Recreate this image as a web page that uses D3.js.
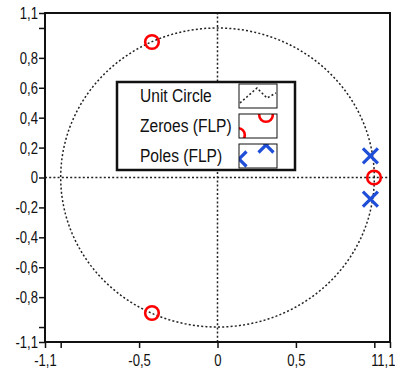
<!DOCTYPE html>
<html lang="en">
<head>
<meta charset="UTF-8">
<title>Pole-Zero Plot</title>
<script src="https://d3js.org/d3.v7.min.js"></script>
<style>
  body { margin: 0; background: #fff; }
  svg text { font-family: "Liberation Sans", Arial, sans-serif; fill: #111; }
</style>
</head>
<body>
<svg id="chart" width="395" height="372"></svg>
<script>
// data
const zeros = [[-0.418, 0.906], [-0.418, -0.906], [0.998, 0]];
const poles = [[0.975, 0.145], [0.975, -0.145]];
const xTicks = [-1.1, -1, -0.5, 0, 0.5, 1, 1.1];
const yTicks = [1.1, 1, 0.8, 0.6, 0.4, 0.2, 0, -0.2, -0.4, -0.6, -0.8, -1, -1.1];
const unlabeledX = [-1];
const unlabeledY = [1, -1];
const legendItems = ["Unit Circle", "Zeroes (FLP)", "Poles (FLP)"];

const svg = d3.select("#chart");
const x = d3.scaleLinear().domain([-1.1, 1.1]).range([45, 390]);
const y = d3.scaleLinear().domain([-1.1, 1.1]).range([342, 13]);

const fmt = v => String(v).replace(".", ",");
const squeeze = 0.77; // the original font is a condensed sans

// dotted axes through origin
const dotted = sel => sel.attr("fill", "none").attr("stroke", "#222")
  .attr("stroke-width", 1.5).attr("stroke-dasharray", "2,2.2");
svg.append("line").attr("x1", x(-1.1)).attr("x2", x(1.1)).attr("y1", y(0)).attr("y2", y(0)).call(dotted);
svg.append("line").attr("x1", x(0)).attr("x2", x(0)).attr("y1", y(-1.1)).attr("y2", y(1.1)).call(dotted);

// unit circle
const circ = d3.range(0, 361, 2).map(a => [Math.cos(a * Math.PI / 180), Math.sin(a * Math.PI / 180)]);
svg.append("path").attr("d", d3.line().x(d => x(d[0])).y(d => y(d[1]))(circ)).call(dotted);

// axes
const xAxis = d3.axisBottom(x).tickValues(xTicks).tickSize(6).tickPadding(6)
  .tickFormat(d => unlabeledX.includes(d) ? "" : fmt(d));
const yAxis = d3.axisLeft(y).tickValues(yTicks).tickSize(6).tickPadding(1)
  .tickFormat(d => unlabeledY.includes(d) ? "" : fmt(d));

const gx = svg.append("g").attr("transform", `translate(0,${y(-1.1)})`).call(xAxis);
const gy = svg.append("g").attr("transform", `translate(${x(-1.1)},0)`).call(yAxis);
[gx, gy].forEach(g => {
  g.select(".domain").remove();
  g.selectAll("line").attr("stroke", "#111").attr("stroke-width", 1.5);
  g.selectAll("text").style("font-size", "17px").attr("fill", "#111")
    .attr("transform", `scale(${squeeze},1)`);
});
gy.selectAll("text").attr("x", -7 / squeeze);
// last x label is pulled in so it stays inside the picture
gx.selectAll("text").filter(d => d === 1.1)
  .attr("text-anchor", "end").attr("x", (395 - x(1.1)) / squeeze);

// frame
svg.append("rect").attr("x", x(-1.1)).attr("y", y(1.1))
  .attr("width", x(1.1) - x(-1.1)).attr("height", y(-1.1) - y(1.1))
  .attr("fill", "none").attr("stroke", "#111").attr("stroke-width", 2);

// markers
function drawZero(g, px, py) {
  g.append("circle").attr("cx", px).attr("cy", py).attr("r", 6.8)
    .attr("fill", "none").attr("stroke", "#f00").attr("stroke-width", 2.6);
}
function drawPole(g, px, py) {
  const s = 7.5;
  g.append("path").attr("d", `M${px - s},${py - s}L${px + s},${py + s}M${px + s},${py - s}L${px - s},${py + s}`)
    .attr("stroke", "#1f4fd8").attr("stroke-width", 3.2).attr("fill", "none");
}
poles.forEach(p => drawPole(svg, x(p[0]), y(p[1])));
zeros.forEach(p => drawZero(svg, x(p[0]), y(p[1])));

// legend
const leg = svg.append("g");
leg.append("rect").attr("x", 117).attr("y", 82).attr("width", 178).attr("height", 88)
  .attr("fill", "#fff").attr("stroke", "#111").attr("stroke-width", 2.5);
const defs = svg.append("defs");
legendItems.forEach((name, i) => {
  const top = 84 + i * 30;
  leg.append("text").attr("x", 140 / 0.82).attr("y", top + 18).style("font-size", "19px")
    .attr("transform", "scale(0.82,1)").text(name);
  defs.append("clipPath").attr("id", "clip" + i)
    .append("rect").attr("x", 239).attr("y", top).attr("width", 38).attr("height", 24);
  const sg = leg.append("g").attr("clip-path", `url(#clip${i})`);
  if (i === 0) {
    sg.append("path").attr("d", d3.line()([[240, top + 19], [257, top + 4], [267, top + 14], [276, top + 9]])).call(dotted);
  } else if (i === 1) {
    drawZero(sg, 238, top + 21);
    drawZero(sg, 266, top + 1);
  } else {
    drawPole(sg, 239, top + 15);
    drawPole(sg, 266, top + 1);
  }
  leg.append("rect").attr("x", 239).attr("y", top).attr("width", 38).attr("height", 24)
    .attr("fill", "none").attr("stroke", "#111").attr("stroke-width", 1);
});
</script>
</body>
</html>
